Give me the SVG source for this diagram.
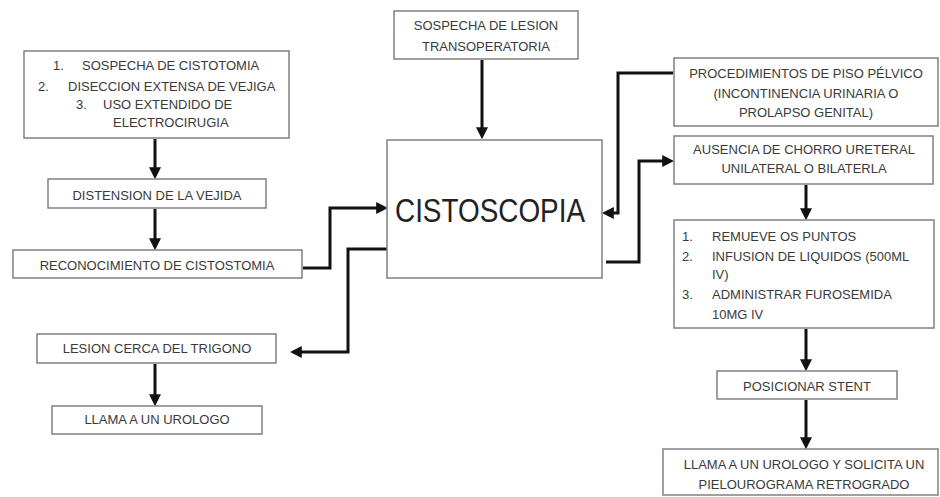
<svg xmlns="http://www.w3.org/2000/svg" width="940" height="497" viewBox="0 0 940 497">
<style>
.box{fill:#fff;stroke:#808080;stroke-width:1.5}
.t{font-family:"Liberation Sans",Arial,sans-serif;font-size:13px;fill:#3a3a3a}
.c{text-anchor:middle}
.big{font-family:"Liberation Sans",Arial,sans-serif;font-size:33px;fill:#222;text-anchor:middle}
.ln{fill:none;stroke:#111;stroke-width:3;marker-end:url(#ah)}
</style>
<defs>
<marker id="ah" viewBox="0 0 10 10" refX="4" refY="5" markerWidth="12" markerHeight="12" markerUnits="userSpaceOnUse" orient="auto">
<path d="M0,0 L10,5 L0,10 z" fill="#111"/>
</marker>
</defs>
<rect width="940" height="497" fill="#fff"/>
<g id="connectors">
<path class="ln" d="M155,139 V172"/>
<path class="ln" d="M155,209 V243"/>
<path class="ln" d="M155,364 V399"/>
<path class="ln" d="M482,60 V132"/>
<path class="ln" d="M806,185 V213"/>
<path class="ln" d="M806,329 V364"/>
<path class="ln" d="M806,400 V442"/>
<path class="ln" d="M303,268 H330 V208 H381"/>
<path class="ln" d="M387,249 H348 V352 H297"/>
<path class="ln" d="M673,73 H618 V213 H609"/>
<path class="ln" d="M606,262 H639 V161 H667"/>
</g>
<g id="n-lista1">
<rect class="box" x="24" y="51" width="265" height="87"/>
<text class="t" x="53" y="70">1.</text><text class="t" x="82" y="70">SOSPECHA DE CISTOTOMIA</text>
<text class="t" x="38" y="91">2.</text><text class="t" x="68" y="91">DISECCION EXTENSA DE VEJIGA</text>
<text class="t" x="76" y="109">3.</text><text class="t" x="103" y="109">USO EXTENDIDO DE</text>
<text class="t" x="113" y="127">ELECTROCIRUGIA</text>
</g>
<g id="n-distension">
<rect class="box" x="48" y="179" width="218" height="29"/>
<text class="t c" x="157" y="200">DISTENSION DE LA VEJIDA</text>
</g>
<g id="n-reconocimiento">
<rect class="box" x="13" y="250" width="289" height="28"/>
<text class="t c" x="157" y="270">RECONOCIMIENTO DE CISTOSTOMIA</text>
</g>
<g id="n-lesion">
<rect class="box" x="37" y="334" width="239" height="29"/>
<text class="t c" x="157" y="353">LESION CERCA DEL TRIGONO</text>
</g>
<g id="n-llama">
<rect class="box" x="52" y="406" width="210" height="28"/>
<text class="t c" x="157" y="424">LLAMA A UN UROLOGO</text>
</g>
<g id="n-sospecha">
<rect class="box" x="394" y="11" width="184" height="48"/>
<text class="t c" x="486" y="30">SOSPECHA DE LESION</text>
<text class="t c" x="486" y="51">TRANSOPERATORIA</text>
</g>
<g id="n-cistoscopia">
<rect class="box" x="387" y="140" width="215" height="138"/>
<text class="big" x="490" y="222" textLength="190" lengthAdjust="spacingAndGlyphs">CISTOSCOPIA</text>
</g>
<g id="n-procedimientos">
<rect class="box" x="674" y="58" width="264" height="68"/>
<text class="t c" x="806" y="78">PROCEDIMIENTOS DE PISO PÉLVICO</text>
<text class="t c" x="806" y="98">(INCONTINENCIA URINARIA O</text>
<text class="t c" x="806" y="117">PROLAPSO GENITAL)</text>
</g>
<g id="n-ausencia">
<rect class="box" x="674" y="136" width="259" height="48"/>
<text class="t c" x="804" y="154">AUSENCIA DE CHORRO URETERAL</text>
<text class="t c" x="804" y="173">UNILATERAL O BILATERLA</text>
</g>
<g id="n-lista2">
<rect class="box" x="674" y="220" width="260" height="108"/>
<text class="t" x="682" y="241">1.</text><text class="t" x="712" y="241">REMUEVE OS PUNTOS</text>
<text class="t" x="682" y="261">2.</text><text class="t" x="712" y="261">INFUSION DE LIQUIDOS (500ML</text>
<text class="t" x="712" y="279">IV)</text>
<text class="t" x="682" y="299">3.</text><text class="t" x="712" y="299">ADMINISTRAR FUROSEMIDA</text>
<text class="t" x="712" y="319">10MG IV</text>
</g>
<g id="n-stent">
<rect class="box" x="717" y="371" width="180" height="28"/>
<text class="t c" x="807" y="391">POSICIONAR STENT</text>
</g>
<g id="n-final">
<rect class="box" x="663" y="449" width="275" height="46"/>
<text class="t c" x="804" y="469">LLAMA A UN UROLOGO Y SOLICITA UN</text>
<text class="t c" x="804" y="489">PIELOUROGRAMA RETROGRADO</text>
</g>
</svg>
